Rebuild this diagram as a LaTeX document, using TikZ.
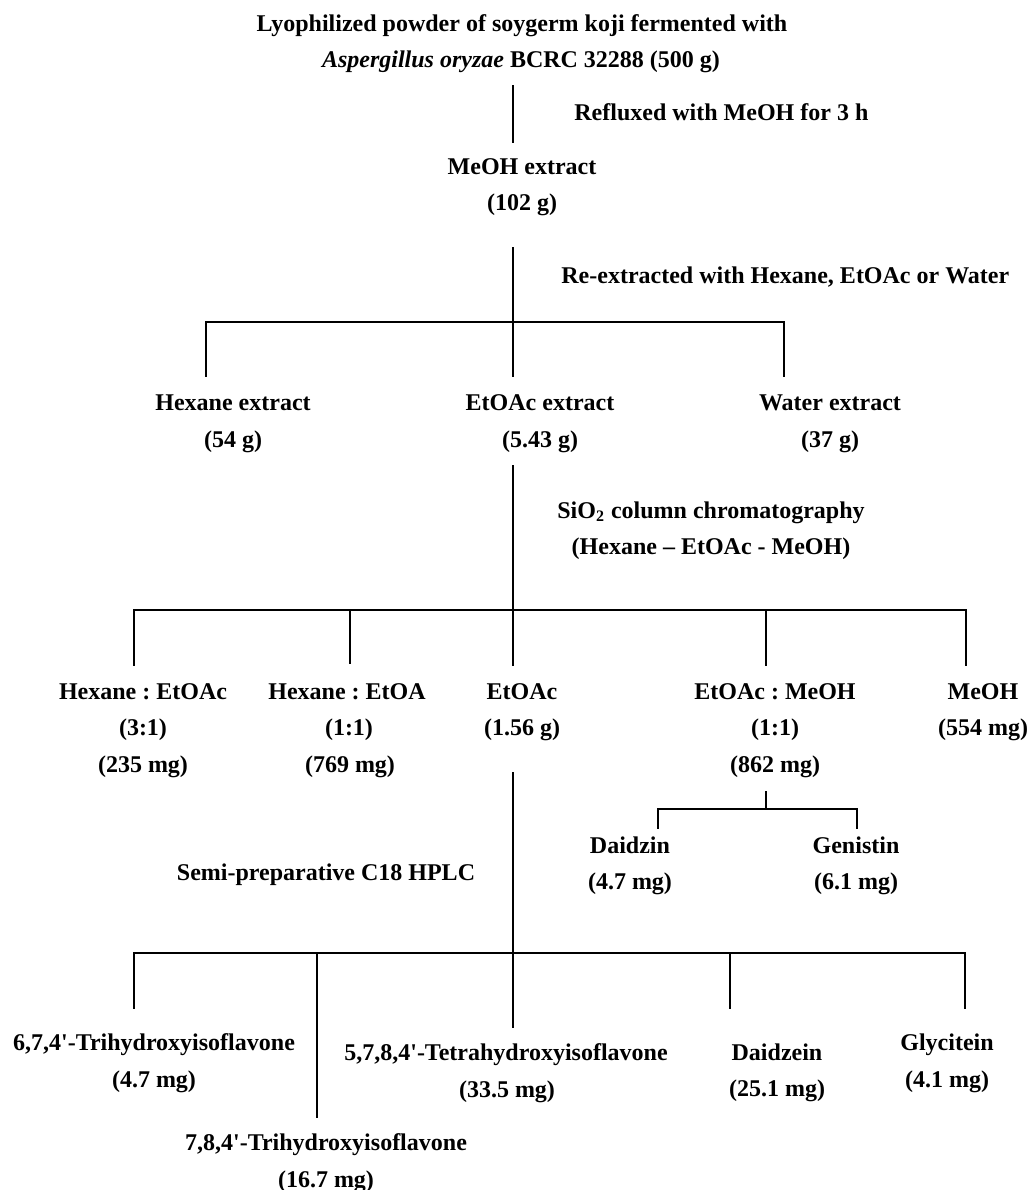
\documentclass[tikz,border=0pt]{standalone}
\usepackage{fontspec}
\setmainfont{Liberation Serif}
\frenchspacing
\begin{document}
\begin{tikzpicture}[x=0.5pt,y=-0.5pt,
  every node/.style={font=\fontsize{12}{14}\selectfont\bfseries\frenchspacing, inner sep=0pt},
  lbl/.style={anchor=base},
  lblw/.style={anchor=base west},
  ln/.style={line width=0.8pt, line cap=rect}]
\useasboundingbox (0,0) rectangle (1029,1190);

% ---------- texts ----------
\node[lbl] (t1) at (522,31) {Lyophilized powder of soygerm koji fermented with};
\node[lbl] (t2) at (521,67) {\textit{Aspergillus oryzae} BCRC 32288 (500 g)};
\node[lblw] (reflux) at (574,120) {Refluxed with MeOH for 3 h};
\node[lbl] (meoh) at (522,174) {MeOH extract};
\node[lbl] (meohw) at (522,210) {(102 g)};
\node[lblw] (reext) at (561,283) {Re-extracted with Hexane, EtOAc or Water};

\node[lbl] (hex) at (233,410) {Hexane extract};
\node[lbl] (hexw) at (233,447) {(54 g)};
\node[lbl] (eto) at (540,410) {EtOAc extract};
\node[lbl] (etow) at (540,447) {(5.43 g)};
\node[lbl] (wat) at (830,410) {Water extract};
\node[lbl] (watw) at (830,447) {(37 g)};

\node[lbl] (sio) at (711,518) {SiO\textsubscript{2} column chromatography};
\node[lbl] (sioel) at (711,554) {(Hexane -- EtOAc - MeOH)};

\node[lbl] (fa1) at (143,699) {Hexane : EtOAc};
\node[lbl] (fa2) at (143,735) {(3:1)};
\node[lbl] (fa3) at (143,772) {(235 mg)};
\node[lbl] (fb1) at (347,699) {Hexane : EtOA};
\node[lbl] (fb2) at (349,735) {(1:1)};
\node[lbl] (fb3) at (350,772) {(769 mg)};
\node[lbl] (fc1) at (522,699) {EtOAc};
\node[lbl] (fc2) at (522,735) {(1.56 g)};
\node[lbl] (fd1) at (775,699) {EtOAc : MeOH};
\node[lbl] (fd2) at (775,735) {(1:1)};
\node[lbl] (fd3) at (775,772) {(862 mg)};
\node[lbl] (fe1) at (983,699) {MeOH};
\node[lbl] (fe2) at (983,735) {(554 mg)};

\node[lbl] (dz1) at (630,853) {Daidzin};
\node[lbl] (dz2) at (630,889) {(4.7 mg)};
\node[lbl] (gn1) at (856,853) {Genistin};
\node[lbl] (gn2) at (856,889) {(6.1 mg)};

\node[lbl] (hplc) at (326,880) {Semi-preparative C18 HPLC};

\node[lbl] (ca1) at (154,1050) {6,7,4\textquotesingle-Trihydroxyisoflavone};
\node[lbl] (ca2) at (154,1087) {(4.7 mg)};
\node[lbl] (cb1) at (326,1150) {7,8,4\textquotesingle-Trihydroxyisoflavone};
\node[lbl] (cb2) at (326,1187) {(16.7 mg)};
\node[lbl] (cc1) at (506,1060) {5,7,8,4\textquotesingle-Tetrahydroxyisoflavone};
\node[lbl] (cc2) at (507,1097) {(33.5 mg)};
\node[lbl] (cd1) at (777,1060) {Daidzein};
\node[lbl] (cd2) at (777,1096) {(25.1 mg)};
\node[lbl] (ce1) at (947,1050) {Glycitein};
\node[lbl] (ce2) at (947,1087) {(4.1 mg)};

% ---------- connector points ----------
\coordinate (s1a) at (513,86);
\coordinate (s1b) at (513,142);
\coordinate (s2a) at (513,248);
\coordinate (j2) at (513,322);
\coordinate (h2l) at (206,322);
\coordinate (h2r) at (784,322);
\coordinate (d2l) at (206,376);
\coordinate (d2m) at (513,376);
\coordinate (d2r) at (784,376);

\coordinate (s3a) at (513,466);
\coordinate (j3) at (513,610);
\coordinate (h3l) at (134,610);
\coordinate (h3b) at (350,610);
\coordinate (h3d) at (766,610);
\coordinate (h3r) at (966,610);
\coordinate (d3a) at (134,665);
\coordinate (d3b) at (350,663);
\coordinate (d3c) at (513,665);
\coordinate (d3d) at (766,665);
\coordinate (d3e) at (966,665);

\coordinate (s4a) at (766,792);
\coordinate (j4) at (766,809);
\coordinate (h4l) at (658,809);
\coordinate (h4r) at (857,809);
\coordinate (d4l) at (658,828);
\coordinate (d4r) at (857,828);

\coordinate (s5a) at (513,773);
\coordinate (j5) at (513,953);
\coordinate (h5l) at (134,953);
\coordinate (h5b) at (317,953);
\coordinate (h5d) at (730,953);
\coordinate (h5r) at (965,953);
\coordinate (d5a) at (134,1008);
\coordinate (d5b) at (317,1117);
\coordinate (d5c) at (513,1027);
\coordinate (d5d) at (730,1008);
\coordinate (d5e) at (965,1008);

% ---------- connectors ----------
\draw[ln] (s1a) -- (s1b);
\draw[ln] (s2a) -- (j2);
\draw[ln] (d2l) -- (h2l) -- (h2r) -- (d2r);
\draw[ln] (j2) -- (d2m);

\draw[ln] (s3a) -- (j3);
\draw[ln] (d3a) -- (h3l) -- (h3r) -- (d3e);
\draw[ln] (h3b) -- (d3b);
\draw[ln] (j3) -- (d3c);
\draw[ln] (h3d) -- (d3d);

\draw[ln] (s4a) -- (j4);
\draw[ln] (d4l) -- (h4l) -- (h4r) -- (d4r);

\draw[ln] (s5a) -- (j5);
\draw[ln] (d5a) -- (h5l) -- (h5r) -- (d5e);
\draw[ln] (h5b) -- (d5b);
\draw[ln] (j5) -- (d5c);
\draw[ln] (h5d) -- (d5d);
\end{tikzpicture}
\end{document}
